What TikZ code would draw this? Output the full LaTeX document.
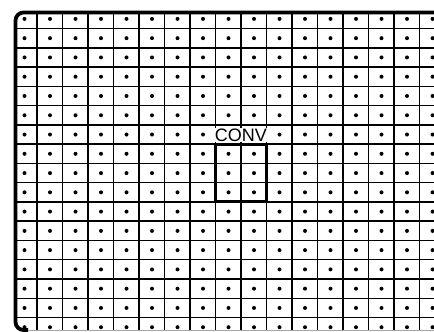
\documentclass[tikz,border=0pt]{standalone}
\usepackage{fontspec}
\setsansfont{Liberation Sans}
\usetikzlibrary{positioning}

\tikzset{
  gridline/.style={line width=1.5pt, black},
  frameline/.style={line width=3.8pt, rounded corners=8pt},
  convbox/.style={draw, line width=3pt, minimum width=51pt, minimum height=57.8pt, inner sep=0pt},
  convlabel/.style={font=\sffamily\fontsize{18}{18}\selectfont, fill=white,
    inner xsep=0pt, inner ysep=0.5pt, text height=13pt, text depth=0pt}
}

\begin{document}
\begin{tikzpicture}[x=1pt, y=-1pt]
    \useasboundingbox (0,0) rectangle (434,332);

    % Grid of cells, each with a dot in its centre
    \begin{scope}
        \clip[rounded corners=8pt] (15.5,12.5) rectangle (450,330);
        \foreach \i in {0,...,15} {
            \draw[gridline] ({37+25.5*\i},0) -- ({37+25.5*\i},340);
            \draw[gridline] (0,{28.5+19.27*\i}) -- (440,{28.5+19.27*\i});
        }
        \foreach \i in {0,...,16} {
            \foreach \j in {0,...,16} {
                \fill ({24.5+25.5*\i},{18.9+19.27*\j}) circle (2pt);
            }
        }
    \end{scope}

    % Outer frame
    \draw[frameline] (450,12.5) -- (15.5,12.5) -- (15.5,330) -- (28,330);
    \draw[black!35, line width=0.8pt] (28,330.5) -- (434,330.5);

    % Convolution window
    \node[convbox] (conv) at (241,173) {};
    \node[convlabel, above=0pt of conv] (convtext) {CONV};
\end{tikzpicture}
\end{document}
